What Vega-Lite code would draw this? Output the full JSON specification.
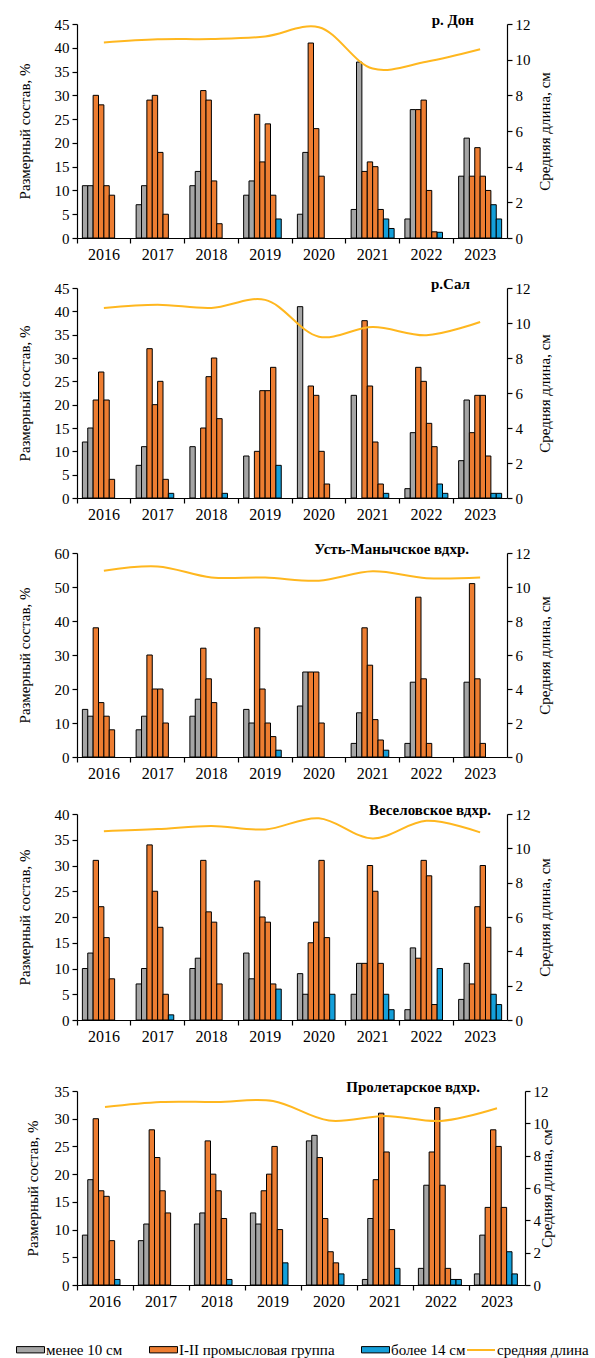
{
"$schema":"https://vega.github.io/schema/vega-lite/v6.json",
"padding":{"left":17,"top":13,"right":0,"bottom":0},
"background":"white",
"datasets":{
"bars":[
{"p":"Дон","yr":2016,"s":1,"g":"менее 10 см","v":11},{"p":"Дон","yr":2016,"s":2,"g":"менее 10 см","v":11},{"p":"Дон","yr":2016,"s":3,"g":"I-II промысловая группа","v":30},{"p":"Дон","yr":2016,"s":4,"g":"I-II промысловая группа","v":28},{"p":"Дон","yr":2016,"s":5,"g":"I-II промысловая группа","v":11},{"p":"Дон","yr":2016,"s":6,"g":"I-II промысловая группа","v":9},
{"p":"Дон","yr":2017,"s":1,"g":"менее 10 см","v":7},{"p":"Дон","yr":2017,"s":2,"g":"менее 10 см","v":11},{"p":"Дон","yr":2017,"s":3,"g":"I-II промысловая группа","v":29},{"p":"Дон","yr":2017,"s":4,"g":"I-II промысловая группа","v":30},{"p":"Дон","yr":2017,"s":5,"g":"I-II промысловая группа","v":18},{"p":"Дон","yr":2017,"s":6,"g":"I-II промысловая группа","v":5},
{"p":"Дон","yr":2018,"s":1,"g":"менее 10 см","v":11},{"p":"Дон","yr":2018,"s":2,"g":"менее 10 см","v":14},{"p":"Дон","yr":2018,"s":3,"g":"I-II промысловая группа","v":31},{"p":"Дон","yr":2018,"s":4,"g":"I-II промысловая группа","v":29},{"p":"Дон","yr":2018,"s":5,"g":"I-II промысловая группа","v":12},{"p":"Дон","yr":2018,"s":6,"g":"I-II промысловая группа","v":3},
{"p":"Дон","yr":2019,"s":1,"g":"менее 10 см","v":9},{"p":"Дон","yr":2019,"s":2,"g":"менее 10 см","v":12},{"p":"Дон","yr":2019,"s":3,"g":"I-II промысловая группа","v":26},{"p":"Дон","yr":2019,"s":4,"g":"I-II промысловая группа","v":16},{"p":"Дон","yr":2019,"s":5,"g":"I-II промысловая группа","v":24},{"p":"Дон","yr":2019,"s":6,"g":"I-II промысловая группа","v":9},{"p":"Дон","yr":2019,"s":7,"g":"более 14 см","v":4},
{"p":"Дон","yr":2020,"s":1,"g":"менее 10 см","v":5},{"p":"Дон","yr":2020,"s":2,"g":"менее 10 см","v":18},{"p":"Дон","yr":2020,"s":3,"g":"I-II промысловая группа","v":41},{"p":"Дон","yr":2020,"s":4,"g":"I-II промысловая группа","v":23},{"p":"Дон","yr":2020,"s":5,"g":"I-II промысловая группа","v":13},
{"p":"Дон","yr":2021,"s":1,"g":"менее 10 см","v":6},{"p":"Дон","yr":2021,"s":2,"g":"менее 10 см","v":37},{"p":"Дон","yr":2021,"s":3,"g":"I-II промысловая группа","v":14},{"p":"Дон","yr":2021,"s":4,"g":"I-II промысловая группа","v":16},{"p":"Дон","yr":2021,"s":5,"g":"I-II промысловая группа","v":15},{"p":"Дон","yr":2021,"s":6,"g":"I-II промысловая группа","v":6},{"p":"Дон","yr":2021,"s":7,"g":"более 14 см","v":4},{"p":"Дон","yr":2021,"s":8,"g":"более 14 см","v":2},
{"p":"Дон","yr":2022,"s":1,"g":"менее 10 см","v":4},{"p":"Дон","yr":2022,"s":2,"g":"менее 10 см","v":27},{"p":"Дон","yr":2022,"s":3,"g":"I-II промысловая группа","v":27},{"p":"Дон","yr":2022,"s":4,"g":"I-II промысловая группа","v":29},{"p":"Дон","yr":2022,"s":5,"g":"I-II промысловая группа","v":10},{"p":"Дон","yr":2022,"s":6,"g":"I-II промысловая группа","v":1.3},{"p":"Дон","yr":2022,"s":7,"g":"более 14 см","v":1.2},
{"p":"Дон","yr":2023,"s":1,"g":"менее 10 см","v":13},{"p":"Дон","yr":2023,"s":2,"g":"менее 10 см","v":21},{"p":"Дон","yr":2023,"s":3,"g":"I-II промысловая группа","v":13},{"p":"Дон","yr":2023,"s":4,"g":"I-II промысловая группа","v":19},{"p":"Дон","yr":2023,"s":5,"g":"I-II промысловая группа","v":13},{"p":"Дон","yr":2023,"s":6,"g":"I-II промысловая группа","v":10},{"p":"Дон","yr":2023,"s":7,"g":"более 14 см","v":7},{"p":"Дон","yr":2023,"s":8,"g":"более 14 см","v":4},

{"p":"Сал","yr":2016,"s":1,"g":"менее 10 см","v":12},{"p":"Сал","yr":2016,"s":2,"g":"менее 10 см","v":15},{"p":"Сал","yr":2016,"s":3,"g":"I-II промысловая группа","v":21},{"p":"Сал","yr":2016,"s":4,"g":"I-II промысловая группа","v":27},{"p":"Сал","yr":2016,"s":5,"g":"I-II промысловая группа","v":21},{"p":"Сал","yr":2016,"s":6,"g":"I-II промысловая группа","v":4},
{"p":"Сал","yr":2017,"s":1,"g":"менее 10 см","v":7},{"p":"Сал","yr":2017,"s":2,"g":"менее 10 см","v":11},{"p":"Сал","yr":2017,"s":3,"g":"I-II промысловая группа","v":32},{"p":"Сал","yr":2017,"s":4,"g":"I-II промысловая группа","v":20},{"p":"Сал","yr":2017,"s":5,"g":"I-II промысловая группа","v":25},{"p":"Сал","yr":2017,"s":6,"g":"I-II промысловая группа","v":4},{"p":"Сал","yr":2017,"s":7,"g":"более 14 см","v":1},
{"p":"Сал","yr":2018,"s":1,"g":"менее 10 см","v":11},{"p":"Сал","yr":2018,"s":3,"g":"I-II промысловая группа","v":15},{"p":"Сал","yr":2018,"s":4,"g":"I-II промысловая группа","v":26},{"p":"Сал","yr":2018,"s":5,"g":"I-II промысловая группа","v":30},{"p":"Сал","yr":2018,"s":6,"g":"I-II промысловая группа","v":17},{"p":"Сал","yr":2018,"s":7,"g":"более 14 см","v":1},
{"p":"Сал","yr":2019,"s":1,"g":"менее 10 см","v":9},{"p":"Сал","yr":2019,"s":3,"g":"I-II промысловая группа","v":10},{"p":"Сал","yr":2019,"s":4,"g":"I-II промысловая группа","v":23},{"p":"Сал","yr":2019,"s":5,"g":"I-II промысловая группа","v":23},{"p":"Сал","yr":2019,"s":6,"g":"I-II промысловая группа","v":28},{"p":"Сал","yr":2019,"s":7,"g":"более 14 см","v":7},
{"p":"Сал","yr":2020,"s":1,"g":"менее 10 см","v":41},{"p":"Сал","yr":2020,"s":3,"g":"I-II промысловая группа","v":24},{"p":"Сал","yr":2020,"s":4,"g":"I-II промысловая группа","v":22},{"p":"Сал","yr":2020,"s":5,"g":"I-II промысловая группа","v":10},{"p":"Сал","yr":2020,"s":6,"g":"I-II промысловая группа","v":3},
{"p":"Сал","yr":2021,"s":1,"g":"менее 10 см","v":22},{"p":"Сал","yr":2021,"s":3,"g":"I-II промысловая группа","v":38},{"p":"Сал","yr":2021,"s":4,"g":"I-II промысловая группа","v":24},{"p":"Сал","yr":2021,"s":5,"g":"I-II промысловая группа","v":12},{"p":"Сал","yr":2021,"s":6,"g":"I-II промысловая группа","v":3},{"p":"Сал","yr":2021,"s":7,"g":"более 14 см","v":1},
{"p":"Сал","yr":2022,"s":1,"g":"менее 10 см","v":2},{"p":"Сал","yr":2022,"s":2,"g":"менее 10 см","v":14},{"p":"Сал","yr":2022,"s":3,"g":"I-II промысловая группа","v":28},{"p":"Сал","yr":2022,"s":4,"g":"I-II промысловая группа","v":25},{"p":"Сал","yr":2022,"s":5,"g":"I-II промысловая группа","v":16},{"p":"Сал","yr":2022,"s":6,"g":"I-II промысловая группа","v":11},{"p":"Сал","yr":2022,"s":7,"g":"более 14 см","v":3},{"p":"Сал","yr":2022,"s":8,"g":"более 14 см","v":1},
{"p":"Сал","yr":2023,"s":1,"g":"менее 10 см","v":8},{"p":"Сал","yr":2023,"s":2,"g":"менее 10 см","v":21},{"p":"Сал","yr":2023,"s":3,"g":"I-II промысловая группа","v":14},{"p":"Сал","yr":2023,"s":4,"g":"I-II промысловая группа","v":22},{"p":"Сал","yr":2023,"s":5,"g":"I-II промысловая группа","v":22},{"p":"Сал","yr":2023,"s":6,"g":"I-II промысловая группа","v":9},{"p":"Сал","yr":2023,"s":7,"g":"более 14 см","v":1},{"p":"Сал","yr":2023,"s":8,"g":"более 14 см","v":1},

{"p":"УМ","yr":2016,"s":1,"g":"менее 10 см","v":14},{"p":"УМ","yr":2016,"s":2,"g":"менее 10 см","v":12},{"p":"УМ","yr":2016,"s":3,"g":"I-II промысловая группа","v":38},{"p":"УМ","yr":2016,"s":4,"g":"I-II промысловая группа","v":16},{"p":"УМ","yr":2016,"s":5,"g":"I-II промысловая группа","v":12},{"p":"УМ","yr":2016,"s":6,"g":"I-II промысловая группа","v":8},
{"p":"УМ","yr":2017,"s":1,"g":"менее 10 см","v":8},{"p":"УМ","yr":2017,"s":2,"g":"менее 10 см","v":12},{"p":"УМ","yr":2017,"s":3,"g":"I-II промысловая группа","v":30},{"p":"УМ","yr":2017,"s":4,"g":"I-II промысловая группа","v":20},{"p":"УМ","yr":2017,"s":5,"g":"I-II промысловая группа","v":20},{"p":"УМ","yr":2017,"s":6,"g":"I-II промысловая группа","v":10},
{"p":"УМ","yr":2018,"s":1,"g":"менее 10 см","v":12},{"p":"УМ","yr":2018,"s":2,"g":"менее 10 см","v":17},{"p":"УМ","yr":2018,"s":3,"g":"I-II промысловая группа","v":32},{"p":"УМ","yr":2018,"s":4,"g":"I-II промысловая группа","v":23},{"p":"УМ","yr":2018,"s":5,"g":"I-II промысловая группа","v":16},
{"p":"УМ","yr":2019,"s":1,"g":"менее 10 см","v":14},{"p":"УМ","yr":2019,"s":2,"g":"менее 10 см","v":10},{"p":"УМ","yr":2019,"s":3,"g":"I-II промысловая группа","v":38},{"p":"УМ","yr":2019,"s":4,"g":"I-II промысловая группа","v":20},{"p":"УМ","yr":2019,"s":5,"g":"I-II промысловая группа","v":10},{"p":"УМ","yr":2019,"s":6,"g":"I-II промысловая группа","v":6},{"p":"УМ","yr":2019,"s":7,"g":"более 14 см","v":2},
{"p":"УМ","yr":2020,"s":1,"g":"менее 10 см","v":15},{"p":"УМ","yr":2020,"s":2,"g":"менее 10 см","v":25},{"p":"УМ","yr":2020,"s":3,"g":"I-II промысловая группа","v":25},{"p":"УМ","yr":2020,"s":4,"g":"I-II промысловая группа","v":25},{"p":"УМ","yr":2020,"s":5,"g":"I-II промысловая группа","v":10},
{"p":"УМ","yr":2021,"s":1,"g":"менее 10 см","v":4},{"p":"УМ","yr":2021,"s":2,"g":"менее 10 см","v":13},{"p":"УМ","yr":2021,"s":3,"g":"I-II промысловая группа","v":38},{"p":"УМ","yr":2021,"s":4,"g":"I-II промысловая группа","v":27},{"p":"УМ","yr":2021,"s":5,"g":"I-II промысловая группа","v":11},{"p":"УМ","yr":2021,"s":6,"g":"I-II промысловая группа","v":5},{"p":"УМ","yr":2021,"s":7,"g":"более 14 см","v":2},
{"p":"УМ","yr":2022,"s":1,"g":"менее 10 см","v":4},{"p":"УМ","yr":2022,"s":2,"g":"менее 10 см","v":22},{"p":"УМ","yr":2022,"s":3,"g":"I-II промысловая группа","v":47},{"p":"УМ","yr":2022,"s":4,"g":"I-II промысловая группа","v":23},{"p":"УМ","yr":2022,"s":5,"g":"I-II промысловая группа","v":4},
{"p":"УМ","yr":2023,"s":2,"g":"менее 10 см","v":22},{"p":"УМ","yr":2023,"s":3,"g":"I-II промысловая группа","v":51},{"p":"УМ","yr":2023,"s":4,"g":"I-II промысловая группа","v":23},{"p":"УМ","yr":2023,"s":5,"g":"I-II промысловая группа","v":4},

{"p":"Вес","yr":2016,"s":1,"g":"менее 10 см","v":10},{"p":"Вес","yr":2016,"s":2,"g":"менее 10 см","v":13},{"p":"Вес","yr":2016,"s":3,"g":"I-II промысловая группа","v":31},{"p":"Вес","yr":2016,"s":4,"g":"I-II промысловая группа","v":22},{"p":"Вес","yr":2016,"s":5,"g":"I-II промысловая группа","v":16},{"p":"Вес","yr":2016,"s":6,"g":"I-II промысловая группа","v":8},
{"p":"Вес","yr":2017,"s":1,"g":"менее 10 см","v":7},{"p":"Вес","yr":2017,"s":2,"g":"менее 10 см","v":10},{"p":"Вес","yr":2017,"s":3,"g":"I-II промысловая группа","v":34},{"p":"Вес","yr":2017,"s":4,"g":"I-II промысловая группа","v":25},{"p":"Вес","yr":2017,"s":5,"g":"I-II промысловая группа","v":18},{"p":"Вес","yr":2017,"s":6,"g":"I-II промысловая группа","v":5},{"p":"Вес","yr":2017,"s":7,"g":"более 14 см","v":1},
{"p":"Вес","yr":2018,"s":1,"g":"менее 10 см","v":10},{"p":"Вес","yr":2018,"s":2,"g":"менее 10 см","v":12},{"p":"Вес","yr":2018,"s":3,"g":"I-II промысловая группа","v":31},{"p":"Вес","yr":2018,"s":4,"g":"I-II промысловая группа","v":21},{"p":"Вес","yr":2018,"s":5,"g":"I-II промысловая группа","v":19},{"p":"Вес","yr":2018,"s":6,"g":"I-II промысловая группа","v":7},
{"p":"Вес","yr":2019,"s":1,"g":"менее 10 см","v":13},{"p":"Вес","yr":2019,"s":2,"g":"менее 10 см","v":8},{"p":"Вес","yr":2019,"s":3,"g":"I-II промысловая группа","v":27},{"p":"Вес","yr":2019,"s":4,"g":"I-II промысловая группа","v":20},{"p":"Вес","yr":2019,"s":5,"g":"I-II промысловая группа","v":19},{"p":"Вес","yr":2019,"s":6,"g":"I-II промысловая группа","v":7},{"p":"Вес","yr":2019,"s":7,"g":"более 14 см","v":6},
{"p":"Вес","yr":2020,"s":1,"g":"менее 10 см","v":9},{"p":"Вес","yr":2020,"s":2,"g":"менее 10 см","v":5},{"p":"Вес","yr":2020,"s":3,"g":"I-II промысловая группа","v":15},{"p":"Вес","yr":2020,"s":4,"g":"I-II промысловая группа","v":19},{"p":"Вес","yr":2020,"s":5,"g":"I-II промысловая группа","v":31},{"p":"Вес","yr":2020,"s":6,"g":"I-II промысловая группа","v":16},{"p":"Вес","yr":2020,"s":7,"g":"более 14 см","v":5},
{"p":"Вес","yr":2021,"s":1,"g":"менее 10 см","v":5},{"p":"Вес","yr":2021,"s":2,"g":"менее 10 см","v":11},{"p":"Вес","yr":2021,"s":3,"g":"I-II промысловая группа","v":11},{"p":"Вес","yr":2021,"s":4,"g":"I-II промысловая группа","v":30},{"p":"Вес","yr":2021,"s":5,"g":"I-II промысловая группа","v":25},{"p":"Вес","yr":2021,"s":6,"g":"I-II промысловая группа","v":11},{"p":"Вес","yr":2021,"s":7,"g":"более 14 см","v":5},{"p":"Вес","yr":2021,"s":8,"g":"более 14 см","v":2},
{"p":"Вес","yr":2022,"s":1,"g":"менее 10 см","v":2},{"p":"Вес","yr":2022,"s":2,"g":"менее 10 см","v":14},{"p":"Вес","yr":2022,"s":3,"g":"I-II промысловая группа","v":12},{"p":"Вес","yr":2022,"s":4,"g":"I-II промысловая группа","v":31},{"p":"Вес","yr":2022,"s":5,"g":"I-II промысловая группа","v":28},{"p":"Вес","yr":2022,"s":6,"g":"I-II промысловая группа","v":3},{"p":"Вес","yr":2022,"s":7,"g":"более 14 см","v":10},
{"p":"Вес","yr":2023,"s":1,"g":"менее 10 см","v":4},{"p":"Вес","yr":2023,"s":2,"g":"менее 10 см","v":11},{"p":"Вес","yr":2023,"s":3,"g":"I-II промысловая группа","v":7},{"p":"Вес","yr":2023,"s":4,"g":"I-II промысловая группа","v":22},{"p":"Вес","yr":2023,"s":5,"g":"I-II промысловая группа","v":30},{"p":"Вес","yr":2023,"s":6,"g":"I-II промысловая группа","v":18},{"p":"Вес","yr":2023,"s":7,"g":"более 14 см","v":5},{"p":"Вес","yr":2023,"s":8,"g":"более 14 см","v":3},

{"p":"Прол","yr":2016,"s":1,"g":"менее 10 см","v":9},{"p":"Прол","yr":2016,"s":2,"g":"менее 10 см","v":19},{"p":"Прол","yr":2016,"s":3,"g":"I-II промысловая группа","v":30},{"p":"Прол","yr":2016,"s":4,"g":"I-II промысловая группа","v":17},{"p":"Прол","yr":2016,"s":5,"g":"I-II промысловая группа","v":16},{"p":"Прол","yr":2016,"s":6,"g":"I-II промысловая группа","v":8},{"p":"Прол","yr":2016,"s":7,"g":"более 14 см","v":1},
{"p":"Прол","yr":2017,"s":1,"g":"менее 10 см","v":8},{"p":"Прол","yr":2017,"s":2,"g":"менее 10 см","v":11},{"p":"Прол","yr":2017,"s":3,"g":"I-II промысловая группа","v":28},{"p":"Прол","yr":2017,"s":4,"g":"I-II промысловая группа","v":23},{"p":"Прол","yr":2017,"s":5,"g":"I-II промысловая группа","v":17},{"p":"Прол","yr":2017,"s":6,"g":"I-II промысловая группа","v":13},
{"p":"Прол","yr":2018,"s":1,"g":"менее 10 см","v":11},{"p":"Прол","yr":2018,"s":2,"g":"менее 10 см","v":13},{"p":"Прол","yr":2018,"s":3,"g":"I-II промысловая группа","v":26},{"p":"Прол","yr":2018,"s":4,"g":"I-II промысловая группа","v":20},{"p":"Прол","yr":2018,"s":5,"g":"I-II промысловая группа","v":17},{"p":"Прол","yr":2018,"s":6,"g":"I-II промысловая группа","v":12},{"p":"Прол","yr":2018,"s":7,"g":"более 14 см","v":1},
{"p":"Прол","yr":2019,"s":1,"g":"менее 10 см","v":13},{"p":"Прол","yr":2019,"s":2,"g":"менее 10 см","v":11},{"p":"Прол","yr":2019,"s":3,"g":"I-II промысловая группа","v":17},{"p":"Прол","yr":2019,"s":4,"g":"I-II промысловая группа","v":20},{"p":"Прол","yr":2019,"s":5,"g":"I-II промысловая группа","v":25},{"p":"Прол","yr":2019,"s":6,"g":"I-II промысловая группа","v":10},{"p":"Прол","yr":2019,"s":7,"g":"более 14 см","v":4},
{"p":"Прол","yr":2020,"s":1,"g":"менее 10 см","v":26},{"p":"Прол","yr":2020,"s":2,"g":"менее 10 см","v":27},{"p":"Прол","yr":2020,"s":3,"g":"I-II промысловая группа","v":23},{"p":"Прол","yr":2020,"s":4,"g":"I-II промысловая группа","v":12},{"p":"Прол","yr":2020,"s":5,"g":"I-II промысловая группа","v":6},{"p":"Прол","yr":2020,"s":6,"g":"I-II промысловая группа","v":4},{"p":"Прол","yr":2020,"s":7,"g":"более 14 см","v":2},
{"p":"Прол","yr":2021,"s":1,"g":"менее 10 см","v":1},{"p":"Прол","yr":2021,"s":2,"g":"менее 10 см","v":12},{"p":"Прол","yr":2021,"s":3,"g":"I-II промысловая группа","v":19},{"p":"Прол","yr":2021,"s":4,"g":"I-II промысловая группа","v":31},{"p":"Прол","yr":2021,"s":5,"g":"I-II промысловая группа","v":24},{"p":"Прол","yr":2021,"s":6,"g":"I-II промысловая группа","v":10},{"p":"Прол","yr":2021,"s":7,"g":"более 14 см","v":3},
{"p":"Прол","yr":2022,"s":1,"g":"менее 10 см","v":3},{"p":"Прол","yr":2022,"s":2,"g":"менее 10 см","v":18},{"p":"Прол","yr":2022,"s":3,"g":"I-II промысловая группа","v":24},{"p":"Прол","yr":2022,"s":4,"g":"I-II промысловая группа","v":32},{"p":"Прол","yr":2022,"s":5,"g":"I-II промысловая группа","v":18},{"p":"Прол","yr":2022,"s":6,"g":"I-II промысловая группа","v":3},{"p":"Прол","yr":2022,"s":7,"g":"более 14 см","v":1},{"p":"Прол","yr":2022,"s":8,"g":"более 14 см","v":1},
{"p":"Прол","yr":2023,"s":1,"g":"менее 10 см","v":2},{"p":"Прол","yr":2023,"s":2,"g":"менее 10 см","v":9},{"p":"Прол","yr":2023,"s":3,"g":"I-II промысловая группа","v":14},{"p":"Прол","yr":2023,"s":4,"g":"I-II промысловая группа","v":28},{"p":"Прол","yr":2023,"s":5,"g":"I-II промысловая группа","v":25},{"p":"Прол","yr":2023,"s":6,"g":"I-II промысловая группа","v":14},{"p":"Прол","yr":2023,"s":7,"g":"более 14 см","v":6},{"p":"Прол","yr":2023,"s":8,"g":"более 14 см","v":2}
],
"means":[
{"p":"Дон","yr":2016,"m":10.96},{"p":"Дон","yr":2017,"m":11.14},{"p":"Дон","yr":2018,"m":11.16},{"p":"Дон","yr":2019,"m":11.3},{"p":"Дон","yr":2020,"m":11.82},{"p":"Дон","yr":2021,"m":9.5},{"p":"Дон","yr":2022,"m":9.88},{"p":"Дон","yr":2023,"m":10.58},
{"p":"Сал","yr":2016,"m":10.86},{"p":"Сал","yr":2017,"m":11.05},{"p":"Сал","yr":2018,"m":10.86},{"p":"Сал","yr":2019,"m":11.32},{"p":"Сал","yr":2020,"m":9.22},{"p":"Сал","yr":2021,"m":9.77},{"p":"Сал","yr":2022,"m":9.3},{"p":"Сал","yr":2023,"m":10.06},
{"p":"УМ","yr":2016,"m":10.96},{"p":"УМ","yr":2017,"m":11.21},{"p":"УМ","yr":2018,"m":10.56},{"p":"УМ","yr":2019,"m":10.56},{"p":"УМ","yr":2020,"m":10.37},{"p":"УМ","yr":2021,"m":10.92},{"p":"УМ","yr":2022,"m":10.52},{"p":"УМ","yr":2023,"m":10.56},
{"p":"Вес","yr":2016,"m":11.0},{"p":"Вес","yr":2017,"m":11.12},{"p":"Вес","yr":2018,"m":11.3},{"p":"Вес","yr":2019,"m":11.1},{"p":"Вес","yr":2020,"m":11.75},{"p":"Вес","yr":2021,"m":10.58},{"p":"Вес","yr":2022,"m":11.6},{"p":"Вес","yr":2023,"m":10.93},
{"p":"Прол","yr":2016,"m":11.01},{"p":"Прол","yr":2017,"m":11.32},{"p":"Прол","yr":2018,"m":11.32},{"p":"Прол","yr":2019,"m":11.38},{"p":"Прол","yr":2020,"m":10.17},{"p":"Прол","yr":2021,"m":10.46},{"p":"Прол","yr":2022,"m":10.15},{"p":"Прол","yr":2023,"m":10.93}
]
},
"spacing":36,
"vconcat":[
{"spacing":20,"vconcat":[
{"spacing":15,"vconcat":[
{"width":430,"height":214,
 "title":{"text":"р. Дон","dx":-33,"offset":-11},
 "layer":[
  {"data":{"name":"bars"},"transform":[{"filter":"datum.p==='Дон'"}],
   "mark":{"type":"bar","stroke":"#000","strokeWidth":1},
   "encoding":{
    "x":{"field":"yr","type":"ordinal","scale":{"paddingInner":0,"paddingOuter":0},"axis":{"title":null,"labelAngle":0,"bandPosition":0,"labelFontSize":16}},
    "xOffset":{"field":"s","type":"ordinal","scale":{"domain":[1,2,3,4,5,6,7,8],"paddingInner":0,"paddingOuter":1}},
    "y":{"field":"v","type":"quantitative","scale":{"domain":[0,45]},"axis":{"title":"Размерный состав, %","values":[0,5,10,15,20,25,30,35,40,45]}},
    "color":{"field":"g","type":"nominal","scale":{"domain":["менее 10 см","I-II промысловая группа","более 14 см"],"range":["#a5a5a5","#ed7d31","#149fd9"]},
     "legend":{"title":null,"orient":"none","legendX":-54,"legendY":1318,"direction":"horizontal","columns":3,"columnPadding":24,"padding":0,
      "symbolType":"M-2,-0.45H2V0.45H-2Z","symbolSize":196,"symbolStrokeColor":"#000","symbolStrokeWidth":1,"symbolOpacity":1,
      "labelFontSize":15,"labelFont":"Liberation Serif","labelColor":"#000","labelOffset":8,"labelLimit":400}}
   }},
  {"data":{"name":"means"},"transform":[{"filter":"datum.p==='Дон'"}],
   "mark":{"type":"line","interpolate":"catmull-rom","strokeWidth":2},
   "encoding":{
    "x":{"field":"yr","type":"ordinal"},
    "y":{"field":"m","type":"quantitative","scale":{"domain":[0,12]},"axis":{"orient":"right","title":"Средняя длина, см","titleAngle":270,"values":[0,2,4,6,8,10,12]}},
    "stroke":{"datum":"средняя длина","type":"nominal","scale":{"domain":["средняя длина"],"range":["#ffb71f"]},
     "legend":{"title":null,"orient":"none","legendX":396,"legendY":1318,"padding":0,
      "symbolType":"M-2,0H2","symbolSize":196,"symbolStrokeWidth":2,"symbolFillColor":"transparent","symbolOpacity":1,
      "labelFontSize":15,"labelFont":"Liberation Serif","labelColor":"#000","labelOffset":8,"labelLimit":400}}
   }}
 ],
 "resolve":{"scale":{"y":"independent"}}
},
{"width":430,"height":210,
 "title":{"text":"р.Сал","dx":-37,"offset":-11},
 "layer":[
  {"data":{"name":"bars"},"transform":[{"filter":"datum.p==='Сал'"}],
   "mark":{"type":"bar","stroke":"#000","strokeWidth":1},
   "encoding":{
    "x":{"field":"yr","type":"ordinal","scale":{"paddingInner":0,"paddingOuter":0},"axis":{"title":null,"labelAngle":0,"bandPosition":0,"labelFontSize":16}},
    "xOffset":{"field":"s","type":"ordinal","scale":{"domain":[1,2,3,4,5,6,7,8],"paddingInner":0,"paddingOuter":1}},
    "y":{"field":"v","type":"quantitative","scale":{"domain":[0,45]},"axis":{"title":"Размерный состав, %","values":[0,5,10,15,20,25,30,35,40,45]}},
    "color":{"field":"g","type":"nominal"}
   }},
  {"data":{"name":"means"},"transform":[{"filter":"datum.p==='Сал'"}],
   "mark":{"type":"line","interpolate":"catmull-rom","strokeWidth":2},
   "encoding":{
    "x":{"field":"yr","type":"ordinal"},
    "y":{"field":"m","type":"quantitative","scale":{"domain":[0,12]},"axis":{"orient":"right","title":"Средняя длина, см","titleAngle":270,"values":[0,2,4,6,8,10,12]}},
    "stroke":{"datum":"средняя длина","type":"nominal"}
   }}
 ],
 "resolve":{"scale":{"y":"independent"}}
}
]},
{"spacing":22,"vconcat":[
{"width":430,"height":204,
 "title":{"text":"Усть-Манычское  вдхр.","dx":-38,"offset":-11},
 "layer":[
  {"data":{"name":"bars"},"transform":[{"filter":"datum.p==='УМ'"}],
   "mark":{"type":"bar","stroke":"#000","strokeWidth":1},
   "encoding":{
    "x":{"field":"yr","type":"ordinal","scale":{"paddingInner":0,"paddingOuter":0},"axis":{"title":null,"labelAngle":0,"bandPosition":0,"labelFontSize":16}},
    "xOffset":{"field":"s","type":"ordinal","scale":{"domain":[1,2,3,4,5,6,7,8],"paddingInner":0,"paddingOuter":1}},
    "y":{"field":"v","type":"quantitative","scale":{"domain":[0,60]},"axis":{"title":"Размерный состав, %","values":[0,10,20,30,40,50,60]}},
    "color":{"field":"g","type":"nominal"}
   }},
  {"data":{"name":"means"},"transform":[{"filter":"datum.p==='УМ'"}],
   "mark":{"type":"line","interpolate":"catmull-rom","strokeWidth":2},
   "encoding":{
    "x":{"field":"yr","type":"ordinal"},
    "y":{"field":"m","type":"quantitative","scale":{"domain":[0,12]},"axis":{"orient":"right","title":"Средняя длина, см","titleAngle":270,"values":[0,2,4,6,8,10,12]}},
    "stroke":{"datum":"средняя длина","type":"nominal"}
   }}
 ],
 "resolve":{"scale":{"y":"independent"}}
},
{"width":430,"height":206,
 "title":{"text":"Веселовское вдхр.","dx":-16,"offset":-11},
 "layer":[
  {"data":{"name":"bars"},"transform":[{"filter":"datum.p==='Вес'"}],
   "mark":{"type":"bar","stroke":"#000","strokeWidth":1},
   "encoding":{
    "x":{"field":"yr","type":"ordinal","scale":{"paddingInner":0,"paddingOuter":0},"axis":{"title":null,"labelAngle":0,"bandPosition":0,"labelFontSize":16}},
    "xOffset":{"field":"s","type":"ordinal","scale":{"domain":[1,2,3,4,5,6,7,8],"paddingInner":0,"paddingOuter":1}},
    "y":{"field":"v","type":"quantitative","scale":{"domain":[0,40]},"axis":{"title":"Размерный состав, %","values":[0,5,10,15,20,25,30,35,40]}},
    "color":{"field":"g","type":"nominal"}
   }},
  {"data":{"name":"means"},"transform":[{"filter":"datum.p==='Вес'"}],
   "mark":{"type":"line","interpolate":"catmull-rom","strokeWidth":2},
   "encoding":{
    "x":{"field":"yr","type":"ordinal"},
    "y":{"field":"m","type":"quantitative","scale":{"domain":[0,12]},"axis":{"orient":"right","title":"Средняя длина, см","titleAngle":270,"values":[0,2,4,6,8,10,12]}},
    "stroke":{"datum":"средняя длина","type":"nominal"}
   }}
 ],
 "resolve":{"scale":{"y":"independent"}}
}
]}
]},
{"width":448,"height":194,
 "title":{"text":"Пролетарское  вдхр.","dx":-45,"offset":-11},
 "layer":[
  {"data":{"name":"bars"},"transform":[{"filter":"datum.p==='Прол'"}],
   "mark":{"type":"bar","stroke":"#000","strokeWidth":1},
   "encoding":{
    "x":{"field":"yr","type":"ordinal","scale":{"paddingInner":0,"paddingOuter":0},"axis":{"title":null,"labelAngle":0,"bandPosition":0,"labelFontSize":16}},
    "xOffset":{"field":"s","type":"ordinal","scale":{"domain":[1,2,3,4,5,6,7,8],"paddingInner":0,"paddingOuter":1}},
    "y":{"field":"v","type":"quantitative","scale":{"domain":[0,35]},"axis":{"title":"Размерный состав, %","titlePadding":14,"values":[0,5,10,15,20,25,30,35]}},
    "color":{"field":"g","type":"nominal"}
   }},
  {"data":{"name":"means"},"transform":[{"filter":"datum.p==='Прол'"}],
   "mark":{"type":"line","interpolate":"catmull-rom","strokeWidth":2},
   "encoding":{
    "x":{"field":"yr","type":"ordinal"},
    "y":{"field":"m","type":"quantitative","scale":{"domain":[0,12]},"axis":{"orient":"right","title":"Средняя длина, см","titleAngle":270,"titlePadding":6,"values":[0,2,4,6,8,10,12]}},
    "stroke":{"datum":"средняя длина","type":"nominal"}
   }}
 ],
 "resolve":{"scale":{"y":"independent"}}
}
],
"config":{
 "font":"Liberation Serif",
 "view":{"stroke":null},
 "title":{"font":"Liberation Serif","fontSize":15,"fontWeight":"bold","anchor":"end","frame":"group","color":"#000"},
 "axis":{"grid":false,"domainColor":"#000","tickColor":"#000","labelColor":"#000","titleColor":"#000","labelFont":"Liberation Serif","titleFont":"Liberation Serif","labelFontSize":15,"titleFontSize":15,"titleFontWeight":"normal","tickSize":5,"labelPadding":3,"titlePadding":22,"domainWidth":1.2,"tickWidth":1.2}
}
}
